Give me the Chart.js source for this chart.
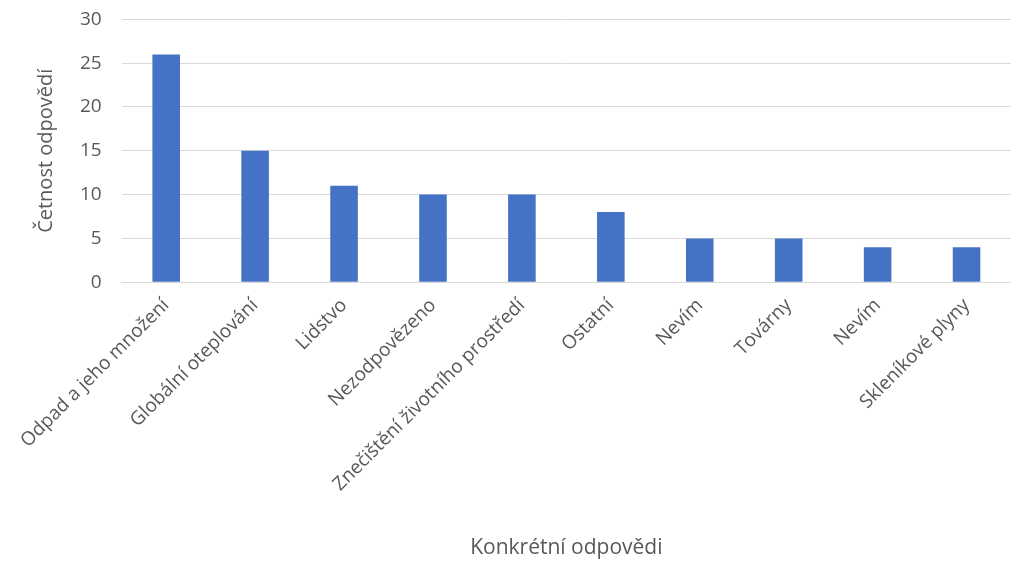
<!DOCTYPE html>
<html>
<head>
<meta charset="utf-8">
<script src="https://cdn.jsdelivr.net/npm/chart.js@4/dist/chart.umd.min.js"></script>
<style>
  html, body { margin: 0; padding: 0; background: #fff; }
  #wrap { width: 1011px; height: 563px; }
</style>
</head>
<body>
<div id="wrap"><canvas id="myChart"></canvas></div>
<script>
const categories = ['Odpad a jeho množení', 'Globální oteplování', 'Lidstvo', 'Nezodpovězeno',
    'Znečištění životního prostředí', 'Ostatní', 'Nevím', 'Továrny', 'Nevím', 'Skleníkové plyny'];
const counts = [26, 15, 11, 10, 10, 8, 5, 5, 4, 4];
const yTicks = [0, 5, 10, 15, 20, 25, 30];

const textColor = '#595959';
const fontFamily = '"Open Sans", "Noto Sans", sans-serif';

const ctx = document.getElementById('myChart').getContext('2d');
const chart = new Chart(ctx, {
    type: 'bar',
    data: {
        labels: categories,
        datasets: [{
            label: 'Četnost',
            data: counts,
            backgroundColor: '#4472C4',
            barPercentage: 0.62,
            categoryPercentage: 0.5
        }]
    },
    options: {
        responsive: true,
        maintainAspectRatio: false,
        animation: false,
        layout: { padding: { left: 34, right: 0, top: 0, bottom: 2 } },
        plugins: {
            legend: { display: false },
            tooltip: { enabled: false }
        },
        scales: {
            x: {
                grid: { display: false },
                border: { color: '#d9d9d9', width: 1 },
                ticks: {
                    color: textColor,
                    font: { family: fontFamily, size: 19 },
                    minRotation: 45,
                    maxRotation: 45,
                    autoSkip: false,
                    padding: 4
                },
                title: {
                    display: true,
                    text: 'Konkrétní odpovědi',
                    color: textColor,
                    font: { family: fontFamily, size: 21 },
                    padding: { top: 36, bottom: 0 }
                }
            },
            y: {
                min: 0,
                max: 30,
                afterBuildTicks: (axis) => { axis.ticks = yTicks.map(v => ({ value: v })); },
                // invisible tick marks keep the gap between labels and plot
                grid: { color: '#d9d9d9', drawTicks: true, tickLength: 12, tickColor: 'rgba(0,0,0,0)' },
                border: { display: false },
                ticks: {
                    color: textColor,
                    font: { family: fontFamily, size: 19 },
                    padding: 8
                },
                title: {
                    display: true,
                    text: 'Četnost odpovědí',
                    color: textColor,
                    font: { family: fontFamily, size: 20 },
                    padding: { top: 0, bottom: 14 }
                }
            }
        }
    }
});
</script>
</body>
</html>
